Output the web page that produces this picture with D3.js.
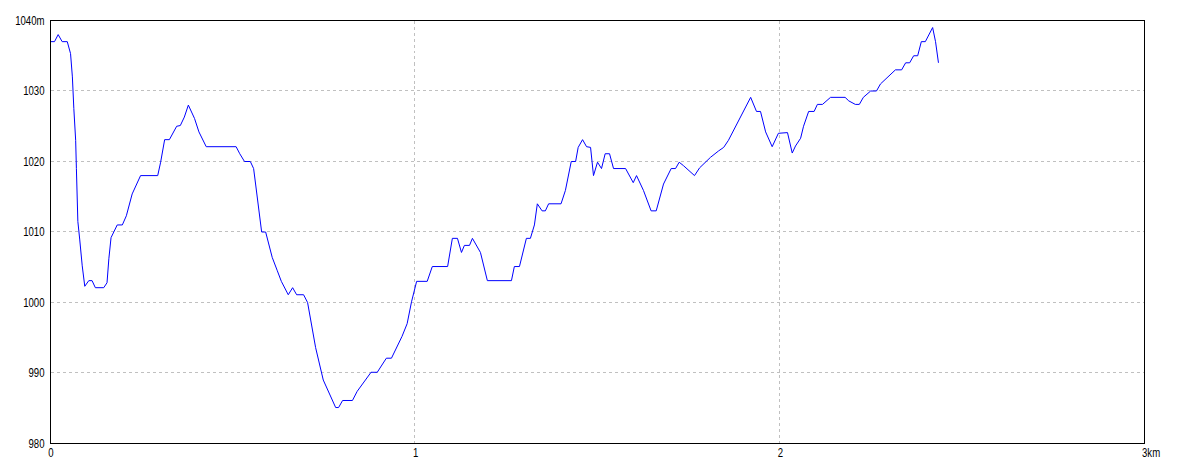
<!DOCTYPE html>
<html>
<head>
<meta charset="utf-8">
<script src="https://cdn.jsdelivr.net/npm/d3@7"></script>
<style>
  html, body { margin: 0; padding: 0; background: #fff; }
  svg { display: block; }
  text { font-family: 'Liberation Sans', sans-serif; font-size: 12px; fill: #000; transform-box: fill-box; }
  .yax text { transform-origin: right center; transform: scaleX(0.8); }
  .xax text { transform-origin: center center; transform: scaleX(0.8); }
  .xax text.last { transform-origin: left center; }
</style>
</head>
<body>
<svg id="chart" width="1184" height="473"></svg>
<script>
// Distance along route (km)
const distKm = [0, 0.011, 0.021, 0.032, 0.046, 0.055, 0.060, 0.064, 0.069, 0.071, 0.075, 0.080, 0.087, 0.094, 0.105, 0.114, 0.123, 0.146, 0.155, 0.160, 0.166, 0.183, 0.197, 0.208, 0.224, 0.247, 0.294, 0.302, 0.313, 0.326, 0.346, 0.356, 0.367, 0.378, 0.395, 0.407, 0.427, 0.509, 0.519, 0.532, 0.548, 0.557, 0.579, 0.590, 0.608, 0.622, 0.633, 0.652, 0.664, 0.675, 0.694, 0.705, 0.727, 0.748, 0.782, 0.790, 0.801, 0.828, 0.841, 0.879, 0.896, 0.921, 0.935, 0.964, 0.978, 0.990, 1.004, 1.033, 1.047, 1.089, 1.102, 1.116, 1.127, 1.135, 1.149, 1.157, 1.179, 1.198, 1.264, 1.272, 1.286, 1.305, 1.316, 1.327, 1.335, 1.348, 1.357, 1.366, 1.400, 1.412, 1.428, 1.440, 1.447, 1.459, 1.470, 1.481, 1.489, 1.500, 1.511, 1.521, 1.533, 1.544, 1.577, 1.598, 1.607, 1.626, 1.647, 1.661, 1.681, 1.702, 1.714, 1.724, 1.736, 1.766, 1.780, 1.810, 1.832, 1.846, 1.859, 1.920, 1.936, 1.947, 1.961, 1.979, 1.996, 2.021, 2.034, 2.043, 2.057, 2.065, 2.079, 2.094, 2.103, 2.117, 2.139, 2.179, 2.189, 2.207, 2.218, 2.229, 2.249, 2.265, 2.276, 2.317, 2.334, 2.345, 2.356, 2.367, 2.378, 2.388, 2.399, 2.419, 2.427, 2.435];
// Elevation (m)
const elevM = [1037, 1037, 1038, 1037, 1037, 1035.3, 1032, 1027.5, 1023, 1019, 1011.5, 1009, 1005.2, 1002.3, 1003.1, 1003.1, 1002.1, 1002.1, 1002.8, 1006.2, 1009.2, 1011, 1011, 1012.3, 1015.4, 1018, 1018, 1019.9, 1023.1, 1023.1, 1025, 1025.1, 1026.3, 1028, 1026.1, 1024.2, 1022.1, 1022.1, 1021.1, 1020, 1020, 1019, 1010, 1010, 1006.4, 1004.5, 1003, 1001.1, 1002.1, 1001.1, 1001.1, 1000, 993.6, 989, 985.1, 985.1, 986.1, 986.1, 987.4, 990.1, 990.1, 992.1, 992.1, 995.2, 997, 1000.1, 1003, 1003, 1005.1, 1005.1, 1009.1, 1009.1, 1007.1, 1008.1, 1008.1, 1009.1, 1007.1, 1003.1, 1003.1, 1005.1, 1005.1, 1009.1, 1009.1, 1011, 1014, 1013, 1013, 1014, 1014, 1015.9, 1020, 1020, 1022, 1023.1, 1022.1, 1022, 1018, 1019.9, 1019, 1021.1, 1021.1, 1019, 1019, 1017, 1018, 1015.9, 1013, 1013, 1016.8, 1019, 1019, 1019.9, 1019.4, 1018, 1019.1, 1020.6, 1021.5, 1022, 1023, 1029.1, 1027.1, 1027.1, 1024.2, 1022.1, 1024, 1024.1, 1021.2, 1022.2, 1023.3, 1025, 1027.1, 1027.1, 1028.1, 1028.1, 1029.1, 1029.1, 1028.6, 1028.1, 1028.1, 1029.1, 1030, 1030, 1031, 1033, 1033, 1034, 1034, 1035, 1035, 1037, 1037, 1039, 1037, 1034];

const xTicks = [0, 1, 2, 3];
const xTickLabels = ["0", "1", "2", "3km"];
const yTicks = [980, 990, 1000, 1010, 1020, 1030, 1040];
const yTickLabels = ["980", "990", "1000", "1010", "1020", "1030", "1040m"];

const svg = d3.select("#chart");
const L = 50.5, R = 1144.5, T = 20.5, B = 443.5;

const x = d3.scaleLinear().domain([0, 3]).range([L, R]);
const y = d3.scaleLinear().domain([980, 1040]).range([B, T]);
const crisp = v => Math.floor(v - 0.5) + 0.5;

// grid
const grid = svg.append("g");
grid.selectAll("line.h").data(yTicks.slice(1, -1)).enter().append("line")
  .attr("x1", L).attr("x2", R)
  .attr("y1", d => crisp(y(d))).attr("y2", d => crisp(y(d)))
  .attr("stroke", "#c0c0c0").attr("stroke-dasharray", "3,3").attr("shape-rendering", "crispEdges");
grid.selectAll("line.v").data(xTicks.slice(1, -1)).enter().append("line")
  .attr("y1", T).attr("y2", B)
  .attr("x1", d => crisp(x(d))).attr("x2", d => crisp(x(d)))
  .attr("stroke", "#c0c0c0").attr("stroke-dasharray", "3,3").attr("shape-rendering", "crispEdges");

// line
const pts = distKm.map((d, i) => [d, elevM[i]]);
svg.append("path")
  .datum(pts)
  .attr("fill", "none")
  .attr("stroke", "#0000ff")
  .attr("stroke-width", 1)
  .attr("d", d3.line().x(d => x(d[0])).y(d => y(d[1])));

// frame
svg.append("rect").attr("x", L).attr("y", T).attr("width", R - L).attr("height", B - T)
  .attr("fill", "none").attr("stroke", "#000").attr("shape-rendering", "crispEdges");

// axes
const yAxis = d3.axisLeft(y).tickValues(yTicks).tickSize(0).tickPadding(6)
  .tickFormat((d, i) => yTickLabels[i]);
const gy = svg.append("g").attr("class", "yax").attr("transform", `translate(${L},0)`).call(yAxis);
gy.select(".domain").remove();
gy.attr("font-family", null).attr("font-size", null);

const xAxis = d3.axisBottom(x).tickValues(xTicks).tickSize(0).tickPadding(5)
  .tickFormat((d, i) => xTickLabels[i]);
const gx = svg.append("g").attr("class", "xax").attr("transform", `translate(0,${B})`).call(xAxis);
gx.select(".domain").remove();
gx.attr("font-family", null).attr("font-size", null);
gx.selectAll(".tick text").filter((d, i) => i === xTicks.length - 1)
  .attr("class", "last").attr("text-anchor", "start").attr("x", -3);
</script>
</body>
</html>
